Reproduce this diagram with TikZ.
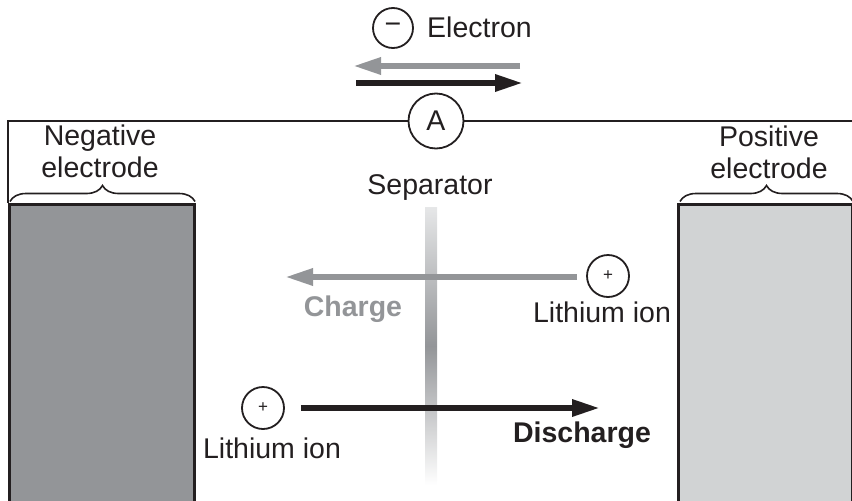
\documentclass[tikz,border=0pt]{standalone}
\usepackage{fontspec}
\setmainfont{Liberation Sans}
\usetikzlibrary{
	positioning				% relative placement
	, arrows.meta			% Triangle tips
	, decorations.pathreplacing	% braces over the electrodes
	, shapes
}
\definecolor{ink}{RGB}{35,31,32}
\definecolor{flowgray}{RGB}{147,149,152}
\definecolor{negfill}{RGB}{147,149,152}
\definecolor{posfill}{RGB}{209,211,212}
\definecolor{seplight}{RGB}{230,231,232}

\begin{document}
\begin{tikzpicture}[
			x=1pt, y=-1pt,
			txt/.style={
				text=ink,
				inner sep=0pt,
				font=\fontsize{28.5pt}{32pt}\selectfont
			},
			electrode/.style={
				rectangle,
				draw=ink, line width=3pt,
				anchor=north west,
				minimum height=320pt
			},
			ion/.style={
				circle,
				draw=ink, line width=1.8pt,
				minimum size=42pt,
				inner sep=0pt,
				text=ink,
				font=\fontsize{17pt}{17pt}\selectfont
			},
			wire/.style={
				draw=ink,
				line width=2.5pt
			},
			electrodebrace/.style={
				draw=ink, line width=1.6pt,
				decorate,
				decoration={brace, amplitude=16pt}
			},
			flowarrow/.style={
				line width=6pt,
				-{Triangle[length=28pt, width=16pt]}
			}]

			\useasboundingbox (0,0) rectangle (852,501);

			%%% Electrodes and the outer circuit
			\node [electrode, fill=negfill, minimum width=185pt] (negbox) at (8,203) {};
			\node [electrode, fill=posfill, minimum width=174pt] (posbox) at (677,203) {};

			\node [ion, minimum size=55pt, font=\fontsize{28.5pt}{32pt}\selectfont, fill=white] (ammeter) at (436,121) {A};
			\draw [wire] (negbox.north west) |- (ammeter.west);
			\draw [wire] (ammeter.east) -| (posbox.north east);

			% braces and names of the electrodes
			\draw [electrodebrace] ([xshift=2pt, yshift=1.5pt]negbox.north west) -- ([xshift=-1pt, yshift=1.5pt]negbox.north east);
			\draw [electrodebrace] ([xshift=3pt, yshift=1.5pt]posbox.north west) -- ([xshift=-1pt, yshift=1.5pt]posbox.north east);
			\node [txt, align=center] (negLabel) at (100,151) {Negative\\electrode};
			\node [txt, align=center] (posLabel) at (769,152) {Positive\\electrode};

			%%% Electron flow in the wire
			\node [ion, minimum size=40pt, font=\fontsize{28.5pt}{32pt}\selectfont] (electron) at (393,28) {−};
			\node [txt, anchor=base west] (electronLabel) at (427,37) {Electron};

			\coordinate (grayTail) at (520,66);
			\coordinate (grayTip) at (353,66);
			\coordinate (blackTail) at (356,83);
			\coordinate (blackTip) at (523,83);
			\draw [flowarrow, flowgray] (grayTail) -- (grayTip);
			\draw [flowarrow, ink] (blackTail) -- (blackTip);

			%%% Separator
			\node [rectangle, minimum width=12pt, minimum height=278pt, inner sep=0pt,
				top color=seplight, bottom color=white, middle color=flowgray] (sepbar) at (431,346) {};
			\node [txt, anchor=base] (sepLabel) at (430,194) {Separator};

			%%% Lithium ions, charge and discharge
			\node [ion] (ionCharge) at (608,276) {+};
			\node [txt, anchor=base] (ionChargeLabel) at (602,322) {Lithium ion};
			\coordinate (chargeTip) at (285,277);
			\draw [flowarrow, flowgray] ([xshift=-9pt, yshift=-1pt]ionCharge.west) -- (chargeTip);
			\node [txt, text=flowgray, font=\fontsize{28.5pt}{32pt}\selectfont\bfseries, anchor=base] (chargeLabel) at (353,316) {Charge};

			\node [ion] (ionDischarge) at (263,408) {+};
			\node [txt, anchor=base] (ionDischargeLabel) at (272,458) {Lithium ion};
			\coordinate (dischargeTip) at (600,408);
			\draw [flowarrow, ink] ([xshift=16pt]ionDischarge.east) -- (dischargeTip);
			\node [txt, font=\fontsize{28.5pt}{32pt}\selectfont\bfseries, anchor=base] (dischargeLabel) at (582,442) {Discharge};

		\end{tikzpicture}
\end{document}
